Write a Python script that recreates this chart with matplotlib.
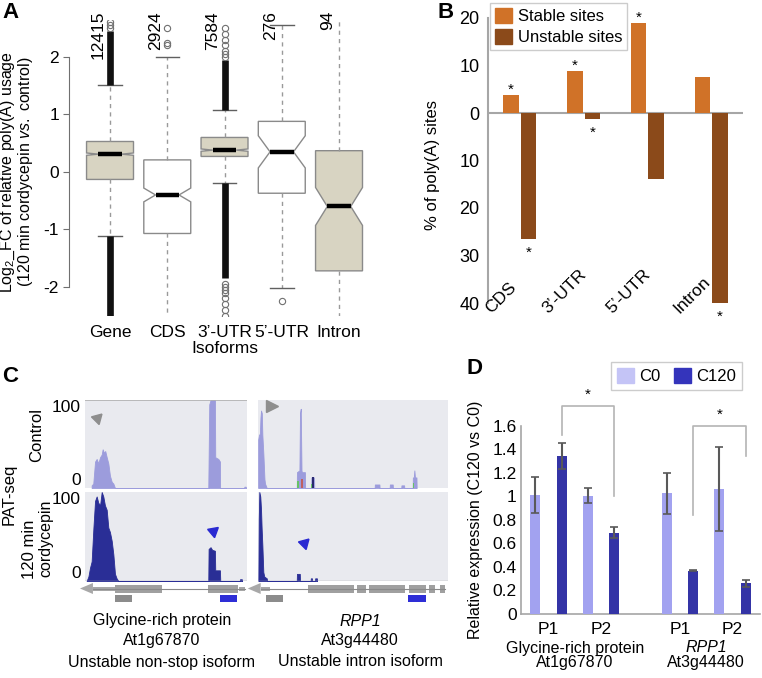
import matplotlib
matplotlib.use("Agg")
import matplotlib.pyplot as plt
import numpy as np
from matplotlib.patches import Patch, Rectangle, Polygon

plt.rcParams["font.family"] = ["Liberation Sans", "DejaVu Sans"]
plt.rcParams["mathtext.fontset"] = "custom"
plt.rcParams["mathtext.rm"] = "Liberation Sans"
plt.rcParams["mathtext.it"] = "Liberation Sans:italic"

# ---------------- data ----------------
# A: boxplots of log2 FC per isoform class
a_groups = ["Gene", "CDS", "3\u2019-UTR", "5\u2019-UTR", "Intron"]
a_counts = ["12415", "2924", "7584", "276", "94"]
a_q1 = [-0.13, -1.07, 0.27, -0.37, -1.72]
a_med = [0.31, -0.40, 0.38, 0.35, -0.60]
a_q3 = [0.53, 0.21, 0.60, 0.88, 0.37]
a_ci_lo = [0.29, -0.52, 0.36, 0.07, -0.93]
a_ci_hi = [0.33, -0.28, 0.40, 0.63, -0.27]
a_whis_lo = [-1.12, -2.55, -0.20, -2.02, -2.55]
a_whis_hi = [1.52, 2.00, 1.08, 2.55, 2.70]
a_filled = [True, False, True, False, True]
# outliers too dense to separate: (low, high) runs; and isolated outliers
a_flier_runs = [[(1.52, 2.45), (-2.52, -1.12)], [], [(1.08, 1.95), (-1.85, -0.20)], [], []]
a_fliers = [[2.5, 2.55, 2.6], [2.2, 2.25, 2.5], [2.0, 2.05, 2.1, 2.2, 2.3, 2.4, 2.5,
            -1.95, -2.0, -2.05, -2.1, -2.2, -2.3, -2.4, -2.5], [-2.25], []]

# B: % of poly(A) sites
b_cats = ["CDS", "3\u2019-UTR", "5\u2019-UTR", "Intron"]
b_stable = [3.8, 8.9, 18.9, 7.5]
b_unstable = [26.5, 1.2, 13.8, 40.0]
b_star_stable = [True, True, True, False]
b_star_unstable = [True, True, False, True]

# C: PAT-seq coverage tracks (position along locus 0-100, coverage 0-100)
c_lt_x = [4.1, 5.1, 6.2, 7.2, 8.2, 9.3, 10.3, 10.9, 11.7, 12.5, 13.4, 14.4, 15.4, 16.5, 17.5, 18.5,
          76.1, 76.7, 77.5, 79.2, 80.2, 80.4, 82.3, 83.3, 83.4, 98.2, 98.4, 99.2, 99.4]
c_lt_y = [3, 5, 30, 33, 28, 35, 38, 44, 40, 42, 35, 28, 14, 7, 5, 0,
          0, 95, 100, 100, 100, 35, 33, 30, 0, 0, 1.5, 1.5, 0]
c_lb_x = [1.0, 2.1, 3.1, 4.1, 5.2, 6.2, 7.2, 8.2, 9.3, 10.3, 11.3, 12.3, 13.4, 14.4, 15.4, 16.5,
          17.5, 18.5, 19.5, 20.6, 76.1, 76.3, 77.5, 78.5, 80.2, 80.4, 83.3, 83.5, 95.5, 95.7, 96.8, 97.0]
c_lb_y = [0, 5, 15, 22, 60, 90, 95, 88, 85, 100, 95, 85, 80, 60, 55, 45,
          30, 8, 3, 0, 0, 36, 38, 35, 34, 12, 12, 0, 0, 2, 2, 0]
c_rt_x = [0.1, 0.5, 1.0, 1.3, 1.6, 2.0, 2.3, 2.8, 3.4, 3.7, 4.6,
          20.4, 20.5, 21.8, 22.1, 22.5, 22.9, 23.1, 24.7, 24.8,
          28.0, 28.1, 29.5, 29.6, 61.4, 61.5, 63.9, 64.0, 69.3, 69.4, 70.9, 71.0,
          75.4, 75.5, 76.9, 77.0, 81.4, 81.5, 82.0, 82.3, 82.6, 83.4, 83.5]
c_rt_y = [55, 60, 62, 80, 88, 85, 60, 40, 10, 5, 0,
          0, 18, 20, 85, 90, 20, 18, 18, 0,
          0, 12, 12, 0, 0, 4, 4, 0, 0, 4, 4, 0,
          0, 3, 3, 0, 0, 12, 12, 20, 12, 12, 0]
c_rt_marks = [(20.4, 21.6, 8, "#66c266"), (22.6, 23.6, 10, "#c06060"), (28.0, 29.6, 5, "#66c266"),
              (81.4, 82.2, 6, "#66c266"), (28.2, 29.4, 12, "#2a2a70")]
c_rb_x = [0.2, 0.4, 0.7, 1.2, 1.6, 1.9, 2.3, 2.8, 3.3, 4.6, 4.8,
          20.4, 20.5, 22.0, 22.1, 27.7, 27.8, 28.4, 28.5, 30.0, 30.1, 31.0, 31.1]
c_rb_y = [0, 70, 100, 95, 80, 60, 40, 10, 5, 3, 0,
          0, 8, 8, 0, 0, 3, 3, 0, 0, 3, 3, 0]
# gene models: (start, end) along the locus
c_left_exons = [(18.5, 47.5), (75.9, 94.4)]
c_left_utrs = [(4.9, 18.5), (95.0, 98.8)]
c_left_arrow = (-3.1, 4.9)
c_left_primers = [(18.5, 29.0), (83.3, 93.8)]
c_right_exons = [(26.3, 50.5), (52.3, 57.0), (58.4, 77.2), (79.3, 88.6), (89.8, 93.0), (96.0, 98.2)]
c_right_utrs = [(1.4, 6.2)]
c_right_arrow = (-5.4, 1.4)
c_right_primers = [(4.4, 13.2), (78.9, 88.6)]
c_gene_names = [("Glycine-rich protein", "At1g67870", "Unstable non-stop isoform"),
                ("RPP1", "At3g44480", "Unstable intron isoform")]

# D: qPCR relative expression
d_primers = ["P1", "P2", "P1", "P2"]
d_genes = [("Glycine-rich protein", "At1g67870"), ("RPP1", "At3g44480")]
d_c0 = [1.01, 1.005, 1.025, 1.06]
d_c0_err = [0.15, 0.065, 0.175, 0.355]
d_c120 = [1.34, 0.69, 0.368, 0.26]
d_c120_err = [0.11, 0.045, 0.005, 0.03]
# brackets: (left bar slot, right bar slot, left foot, right foot, top)
d_brackets = [(1, 3, 1.52, 1.00, 1.77), (6, 8, 0.84, 1.34, 1.60)]

# ---------------- figure ----------------
W, H = 762, 678
fig = plt.figure(figsize=(W / 100, H / 100), dpi=100)


def px_axes(left, top, width, height):
    return fig.add_axes([left / W, 1 - (top + height) / H, width / W, height / H])


def fig_text(x, y, s, **kw):
    return fig.text(x / W, 1 - y / H, s, **kw)


GREY_AX = "#a6a6a6"

# ---- A ----
axA = px_axes(68.8, 19.6, 310.3, 296.1)
posA = np.arange(1, len(a_groups) + 1)
stats = [dict(med=a_med[i], q1=a_q1[i], q3=a_q3[i], cilo=a_ci_lo[i], cihi=a_ci_hi[i],
              whislo=a_whis_lo[i], whishi=a_whis_hi[i], fliers=[]) for i in range(len(a_groups))]
bp = axA.bxp(stats, positions=posA, widths=0.82, shownotches=True, patch_artist=True,
             showfliers=False,
             boxprops=dict(edgecolor="#8a8a8a", linewidth=1),
             medianprops=dict(color="black", linewidth=3.2, solid_capstyle="butt"),
             whiskerprops=dict(color="#9a9a9a", linewidth=1, linestyle=(0, (3, 3))),
             capprops=dict(color="#606060", linewidth=1))
for patch, filled in zip(bp["boxes"], a_filled):
    patch.set_facecolor("#d8d4c2" if filled else "white")
for p, runs, pts in zip(posA, a_flier_runs, a_fliers):
    for lo, hi in runs:
        axA.vlines(p, lo, hi, color="#111111", lw=4.8, zorder=4)
    if pts:
        axA.plot([p] * len(pts), pts, ls="none", marker="o", ms=4.5, mfc="none",
                 mec="#707070", mew=0.8, zorder=4)
axA.set_xlim(0.28, 5.7)
axA.set_ylim(-2.5, 2.65)
for s in ["top", "right", "bottom"]:
    axA.spines[s].set_visible(False)
axA.spines["left"].set_bounds(-2, 2)
axA.spines["left"].set_color("#707070")
axA.set_yticks([-2, -1, 0, 1, 2], ["-2", "-1", "0", "1", "2"])
axA.tick_params(axis="y", length=4, color="#707070", labelsize=12.5, pad=3)
axA.set_xticks(posA, a_groups)
axA.tick_params(axis="x", length=0, labelsize=12.5, pad=7)
for p, c in zip(posA, a_counts):
    axA.text(p - 0.2, 2.8, c, rotation=90, ha="center", va="top", fontsize=12.5, clip_on=False)
axA.annotate("Isoforms", xy=(3, 0), xycoords=("data", "axes fraction"), xytext=(0, -33),
             textcoords="offset pixels", ha="center", va="center", fontsize=12.5)
fig_text(17, 172, "Log$_2$_FC of relative poly(A) usage\n"
         "(120 min cordycepin $\\mathit{vs.}$ control)",
         rotation=90, ha="center", va="center", fontsize=11.5, linespacing=0.95,
         multialignment="center")
fig_text(2, 2, "A", fontsize=16, fontweight="bold", va="top", ha="left")

# ---- B ----
axB = px_axes(488, 18, 255, 285)
xb = np.arange(len(b_cats))
off, bw = 0.137, 0.245
axB.bar(xb - off, b_stable, width=bw, color="#d07228", zorder=3)
axB.bar(xb + off, [-v for v in b_unstable], width=bw, color="#8b4a1a", zorder=3)
axB.axhline(0, color=GREY_AX, lw=1.5, zorder=2)
axB.set_xlim(-0.5, 3.5)
axB.set_ylim(-40, 20)
for s in ["top", "right", "bottom"]:
    axB.spines[s].set_visible(False)
axB.spines["left"].set_color(GREY_AX)
axB.spines["left"].set_linewidth(1.5)
yt = [20, 10, 0, -10, -20, -30, -40]
axB.set_yticks(yt, [str(abs(v)) for v in yt])
axB.tick_params(axis="y", length=0, labelsize=13, pad=6)
axB.set_xticks([])
for i, c in enumerate(b_cats):
    axB.annotate(c, xy=(i - 0.3, -40), xytext=(0, -13), textcoords="offset pixels",
                 rotation=45, ha="center", va="bottom", fontsize=12.5, annotation_clip=False)
for i in range(len(b_cats)):
    if b_star_stable[i]:
        axB.annotate("*", xy=(i - off, b_stable[i]), xytext=(0, 1), textcoords="offset pixels",
                     ha="center", va="baseline", fontsize=11, annotation_clip=False)
    if b_star_unstable[i]:
        axB.annotate("*", xy=(i + off, -b_unstable[i]), xytext=(0, -18),
                     textcoords="offset pixels", ha="center", va="baseline", fontsize=11,
                     annotation_clip=False)
axB.legend(handles=[Patch(color="#d07228", label="Stable sites"),
                    Patch(color="#8b4a1a", label="Unstable sites")],
           loc="upper left", bbox_to_anchor=(490 / W, 1 - 3 / H), bbox_transform=fig.transFigure,
           borderaxespad=0, fancybox=False, edgecolor="#cccccc", framealpha=1, fontsize=12,
           handlelength=1.0, handleheight=1.05, handletextpad=0.35, borderpad=0.3,
           labelspacing=0.25)
fig_text(433, 165, "% of poly(A) sites", rotation=90, ha="center", va="center", fontsize=12)
fig_text(437, 2, "B", fontsize=16, fontweight="bold", va="top", ha="left")

# ---- C ----
TRACK_BG = "#e9eaef"
CTRL = "#9c9cdc"
CORD = "#2a2e96"


def track(left, top, width, height, xs, ys, color, ylabels):
    ax = px_axes(left, top, width, height)
    ax.set_facecolor(TRACK_BG)
    ax.fill_between(xs, ys, color=color, lw=0.6, edgecolor=color)
    ax.set_xlim(0, 100)
    ax.set_ylim(0, 100)
    for s in ax.spines.values():
        s.set_visible(False)
    ax.set_xticks([])
    if ylabels:
        ax.set_yticks([0, 100], ["0", "100"])
        ax.tick_params(axis="y", length=0, labelsize=12.5, pad=3)
        lab0, lab100 = ax.get_yticklabels()
        lab0.set_verticalalignment("bottom")
        lab100.set_verticalalignment("top")
    else:
        ax.set_yticks([])
    return ax


axLT = track(85, 400, 162, 88, c_lt_x, c_lt_y, CTRL, True)
axLT.axhline(100, color="#b0b0b0", lw=1.2)
axLB = track(85, 492, 162, 89, c_lb_x, c_lb_y, CORD, True)
axRT = track(258, 400, 190, 88, c_rt_x, c_rt_y, CTRL, False)
for x0, x1, h, col in c_rt_marks:
    axRT.add_patch(Rectangle((x0, 0), x1 - x0, h, color=col, lw=0))
axRB = track(258, 492, 190, 89, c_rb_x, c_rb_y, CORD, False)
axLB.axhline(0, color="#b0b0b0", lw=1)
axRB.axhline(0, color="#b0b0b0", lw=1)

# arrowheads marking isoforms
axLT.plot(7.7, 80, marker=(3, 0, 195), ms=9, color="#8e8e8e", clip_on=False)
axRT.plot(7.5, 93, marker=">", ms=9, color="#8e8e8e", clip_on=False)
axLB.plot(78.8, 56, marker=(3, 0, 190), ms=9, color="#2a2ad2")
axRB.plot(24, 43, marker=(3, 0, 195), ms=9, color="#2a2ad2")


def gene_model(left, width, exons, utrs, arrow, primers):
    ax = px_axes(left, 583, width, 22)
    ax.set_xlim(0, 100)
    ax.set_ylim(22, 0)
    ax.axis("off")
    start = arrow[1]
    end = max(e for _, e in exons + utrs)
    ax.plot([start, end], [5.5, 5.5], color="#8a8a8a", lw=0.8)
    tip, base = arrow
    ax.add_patch(Polygon([(tip, 5.5), (base, 0), (base, 11)], closed=True, color="#a8a8a8",
                         lw=0, clip_on=False))
    for a, b in utrs:
        ax.add_patch(Rectangle((a, 3.5), b - a, 4, color="#a8a8a8", lw=0, clip_on=False))
    for a, b in exons:
        ax.add_patch(Rectangle((a, 1.5), b - a, 8.5, color="#a0a0a0", lw=0, clip_on=False))
    cols = ["#8c8c8c", "#2e2ed6"]
    for (a, b), col in zip(primers, cols):
        ax.add_patch(Rectangle((a, 12.3), b - a, 6.7, color=col, lw=0))
    return ax


gene_model(85, 162, c_left_exons, c_left_utrs, c_left_arrow, c_left_primers)
gene_model(258, 190, c_right_exons, c_right_utrs, c_right_arrow, c_right_primers)

for cx, names in zip([162, 360], c_gene_names):
    for k, (yy, t) in enumerate(zip([621, 641, 662], names)):
        style = "italic" if names[0] == "RPP1" and k == 0 else "normal"
        fig_text(cx, yy, t, ha="center", va="center", fontsize=11.5, fontstyle=style)

fig_text(37, 435, "Control", rotation=90, ha="center", va="center", fontsize=12)
fig_text(9, 494, "PAT-seq", rotation=90, ha="center", va="center", fontsize=12)
fig_text(30, 549, "120 min", rotation=90, ha="center", va="center", fontsize=12)
fig_text(46, 538, "cordycepin", rotation=90, ha="center", va="center", fontsize=11.5)
fig_text(2, 366, "C", fontsize=16, fontweight="bold", va="top", ha="left")

# ---- D ----
axD = px_axes(521, 425.7, 239, 188.3)
C0_COL = "#a2a2f0"
C120_COL = "#3434a6"
slots0 = [2 * k + (1 if k >= 2 else 0) for k in range(len(d_primers))]
slots1 = [s + 1 for s in slots0]
ekw = dict(ecolor="#595959", elinewidth=1.5, capsize=3, capthick=1.2)
axD.bar(slots0, d_c0, width=0.38, color=C0_COL, yerr=d_c0_err, error_kw=ekw, zorder=3)
axD.bar(slots1, d_c120, width=0.38, color=C120_COL, yerr=d_c120_err, error_kw=ekw, zorder=3)
axD.set_xlim(-0.55, 8.55)
axD.set_ylim(0, 1.6)
for s in ["top", "right"]:
    axD.spines[s].set_visible(False)
for s in ["left", "bottom"]:
    axD.spines[s].set_color(GREY_AX)
    axD.spines[s].set_linewidth(1.2)
yd = [0, 0.2, 0.4, 0.6, 0.8, 1.0, 1.2, 1.4, 1.6]
axD.set_yticks(yd, ["0", "0.2", "0.4", "0.6", "0.8", "1", "1.2", "1.4", "1.6"])
axD.tick_params(axis="y", length=0, labelsize=12.5, pad=3)
pair_centres = [(a + b) / 2 for a, b in zip(slots0, slots1)]
axD.set_xticks(pair_centres, d_primers)
axD.tick_params(axis="x", length=0, labelsize=12.5, pad=6)
gene_centres = [(pair_centres[0] + pair_centres[1]) / 2, (pair_centres[2] + pair_centres[3]) / 2]
for gc, (g1, g2) in zip(gene_centres, d_genes):
    axD.annotate(g1, xy=(gc, 0), xycoords=("data", "axes fraction"), xytext=(0, -34),
                 textcoords="offset pixels", ha="center", va="center", fontsize=11.5,
                 fontstyle="italic" if g1 == "RPP1" else "normal")
    axD.annotate(g2, xy=(gc, 0), xycoords=("data", "axes fraction"), xytext=(0, -49),
                 textcoords="offset pixels", ha="center", va="center", fontsize=11.5)
for xl, xr, yl, yr, top in d_brackets:
    axD.plot([xl, xl, xr, xr], [yl, top, top, yr], color="#b4b4b4", lw=1.2, clip_on=False)
    axD.annotate("*", xy=((xl + xr) / 2, top), xytext=(0, 7), textcoords="offset pixels",
                 ha="center", va="baseline", fontsize=11, annotation_clip=False)
axD.legend(handles=[Patch(color="#c4c4f6", label="C0"), Patch(color="#3434bb", label="C120")],
           ncol=2, loc="upper left", bbox_to_anchor=(611 / W, 1 - 362 / H),
           bbox_transform=fig.transFigure, borderaxespad=0, fancybox=False, edgecolor="#cccccc",
           framealpha=1, fontsize=12, handlelength=1.0, handleheight=1.0, handletextpad=0.35,
           columnspacing=0.8, borderpad=0.35)
fig_text(475, 520, "Relative expression (C120 vs C0)", rotation=90, ha="center", va="center",
         fontsize=11.5)
fig_text(467, 358, "D", fontsize=16, fontweight="bold", va="top", ha="left")

fig.savefig("out.png", dpi=100)
